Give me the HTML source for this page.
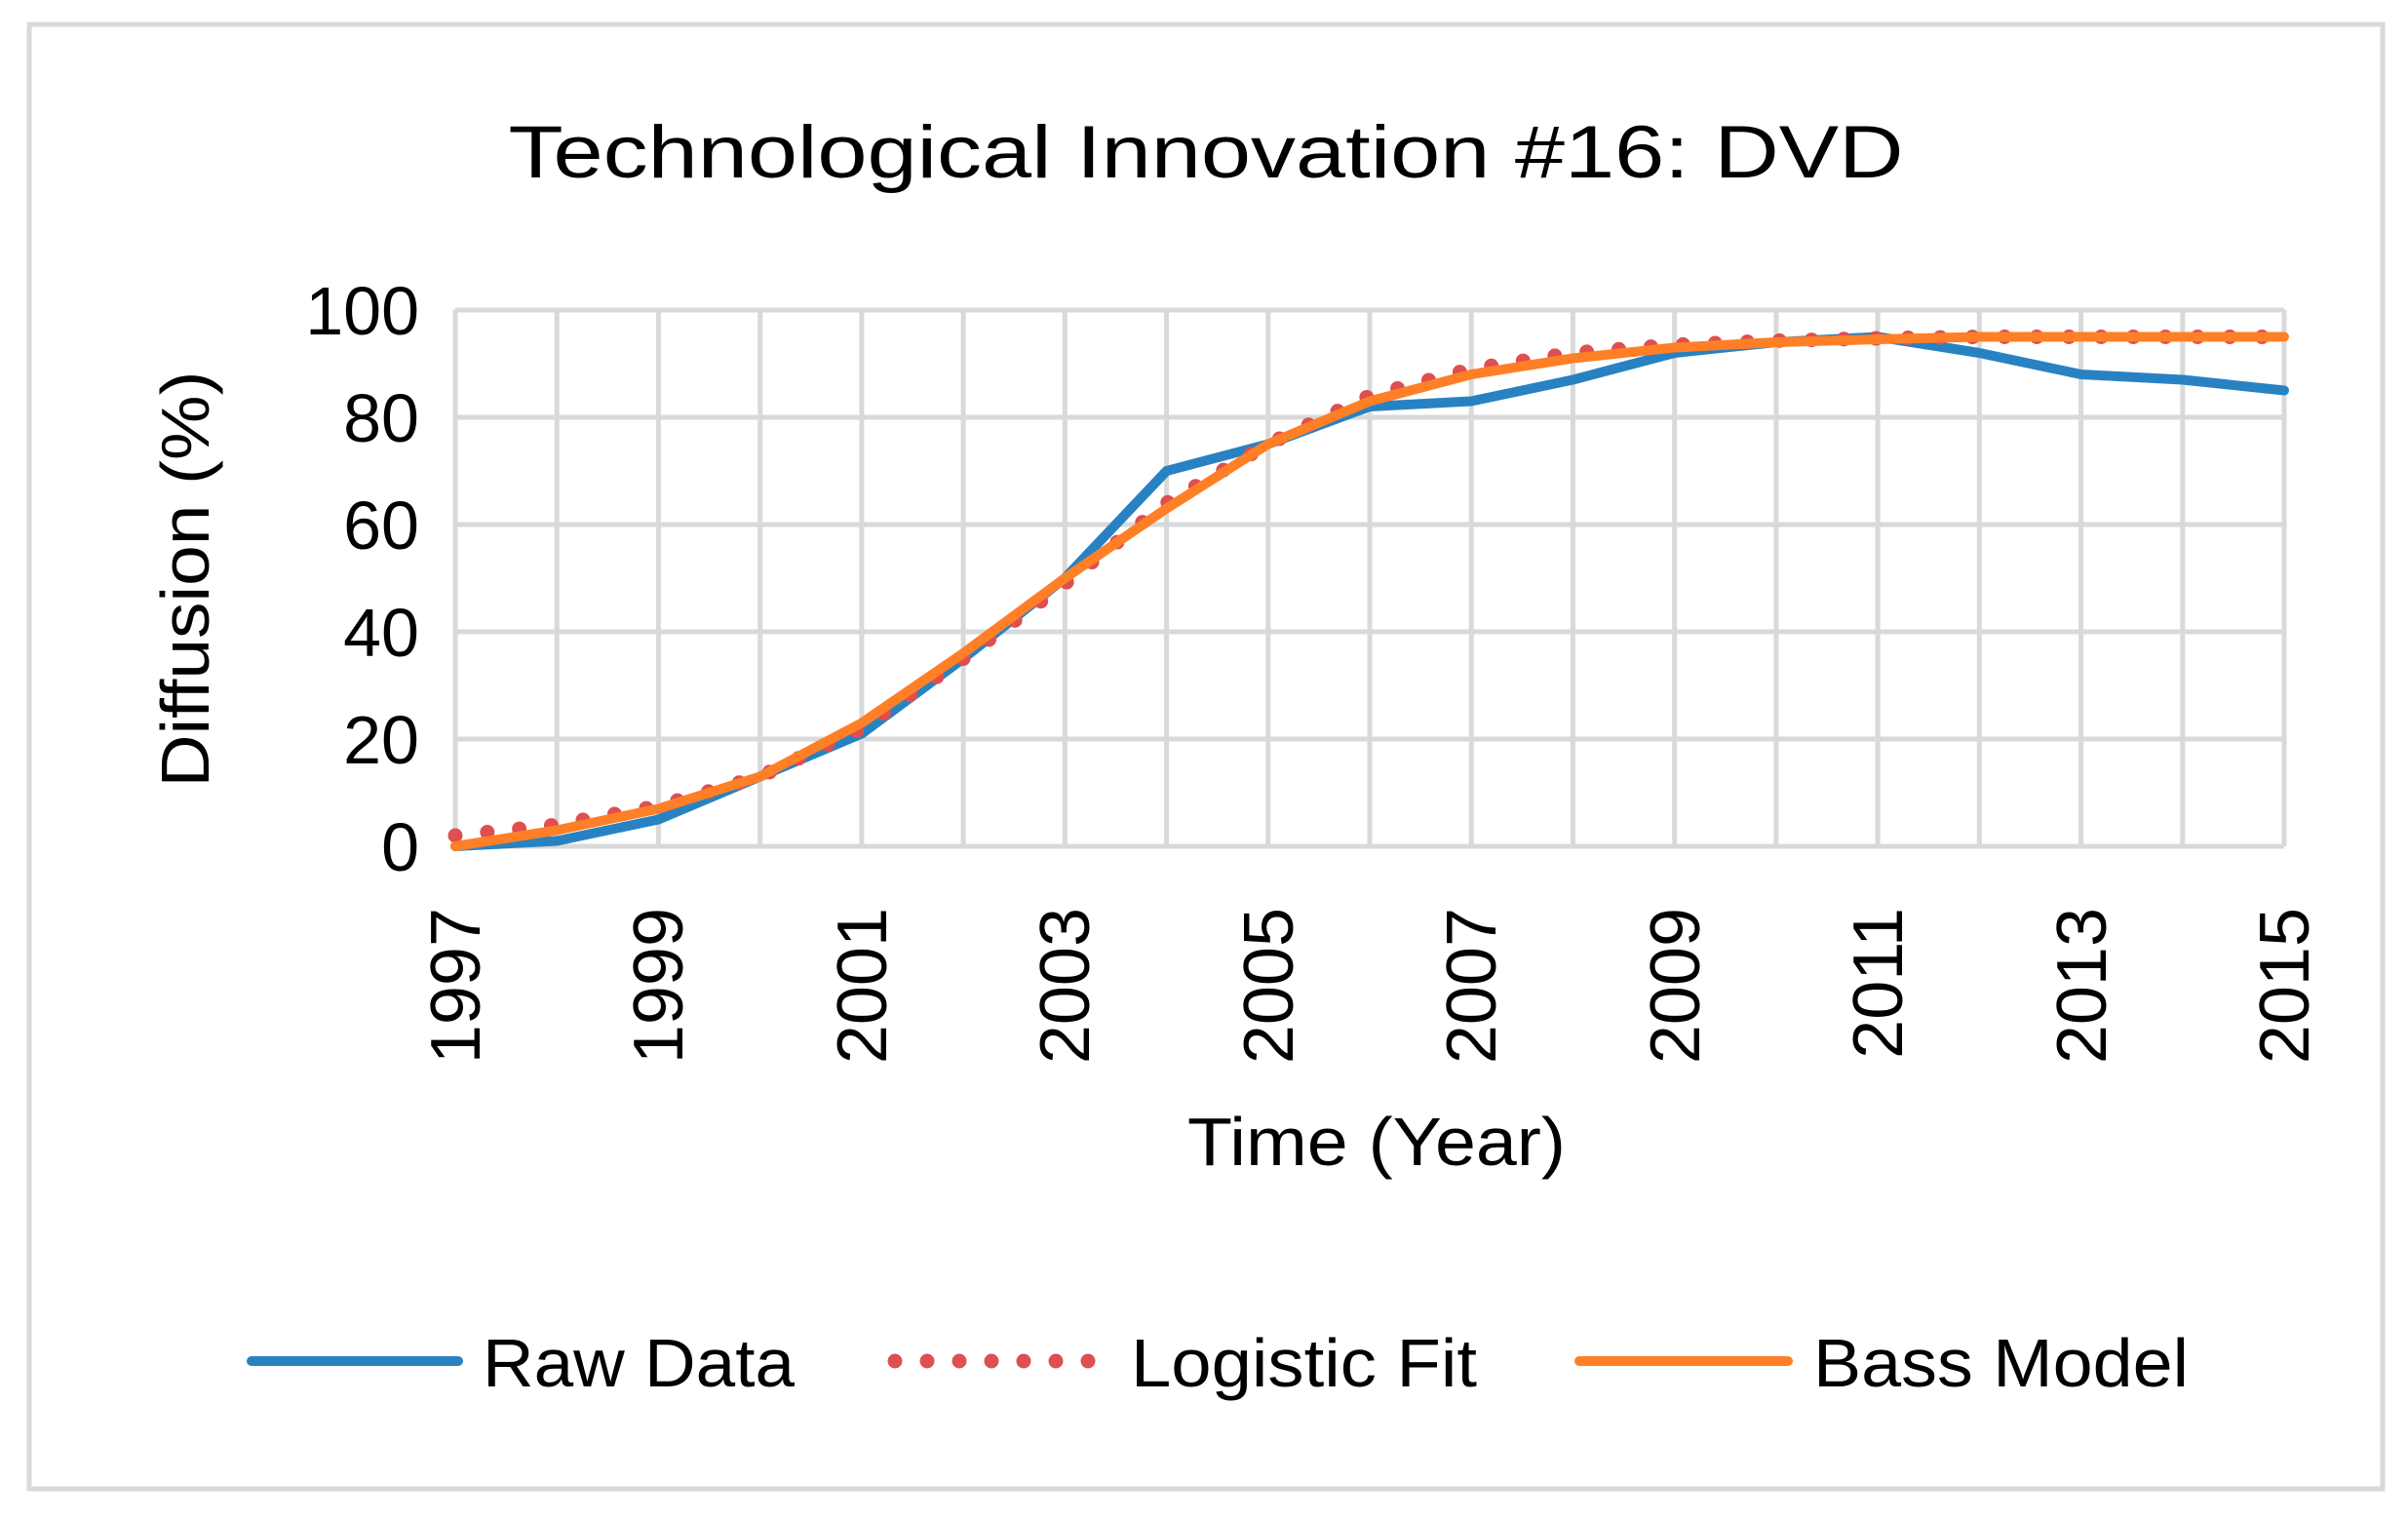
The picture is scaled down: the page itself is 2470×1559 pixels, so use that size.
<!DOCTYPE html>
<html><head><meta charset="utf-8"><style>html,body{margin:0;padding:0;background:#fff}</style></head>
<body>
<svg width="2470" height="1554" xmlns="http://www.w3.org/2000/svg" font-family="Liberation Sans, sans-serif">
<rect x="0" y="0" width="2470" height="1554" fill="#fff"/>
<rect x="30" y="25" width="2414" height="1502" fill="none" stroke="#d9d9d9" stroke-width="5"/>
<text x="1237" y="182" font-size="76" text-anchor="middle" textLength="1431" lengthAdjust="spacingAndGlyphs">Technological Innovation #16:  DVD</text>
<g stroke="#d9d9d9" stroke-width="5">
<line x1="467" y1="868" x2="2343" y2="868"/><line x1="467" y1="758" x2="2343" y2="758"/><line x1="467" y1="648" x2="2343" y2="648"/><line x1="467" y1="538" x2="2343" y2="538"/><line x1="467" y1="428" x2="2343" y2="428"/><line x1="467" y1="318" x2="2343" y2="318"/>
<line x1="467" y1="318" x2="467" y2="868"/><line x1="571.2" y1="318" x2="571.2" y2="868"/><line x1="675.4" y1="318" x2="675.4" y2="868"/><line x1="779.7" y1="318" x2="779.7" y2="868"/><line x1="883.9" y1="318" x2="883.9" y2="868"/><line x1="988.1" y1="318" x2="988.1" y2="868"/><line x1="1092.3" y1="318" x2="1092.3" y2="868"/><line x1="1196.6" y1="318" x2="1196.6" y2="868"/><line x1="1300.8" y1="318" x2="1300.8" y2="868"/><line x1="1405" y1="318" x2="1405" y2="868"/><line x1="1509.2" y1="318" x2="1509.2" y2="868"/><line x1="1613.4" y1="318" x2="1613.4" y2="868"/><line x1="1717.7" y1="318" x2="1717.7" y2="868"/><line x1="1821.9" y1="318" x2="1821.9" y2="868"/><line x1="1926.1" y1="318" x2="1926.1" y2="868"/><line x1="2030.3" y1="318" x2="2030.3" y2="868"/><line x1="2134.6" y1="318" x2="2134.6" y2="868"/><line x1="2238.8" y1="318" x2="2238.8" y2="868"/><line x1="2343" y1="318" x2="2343" y2="868"/>
</g>
<g font-size="70" text-anchor="end">
<text x="430" y="893">0</text><text x="430" y="783">20</text><text x="430" y="673">40</text><text x="430" y="563">60</text><text x="430" y="453">80</text><text x="430" y="343">100</text>
</g>
<text transform="translate(214,594) rotate(-90)" font-size="70" text-anchor="middle" textLength="427" lengthAdjust="spacingAndGlyphs">Diffusion (%)</text>
<g font-size="72" text-anchor="end">
<text transform="translate(492,931) rotate(-90)">1997</text>
<text transform="translate(700,931) rotate(-90)">1999</text>
<text transform="translate(909,931) rotate(-90)">2001</text>
<text transform="translate(1117,931) rotate(-90)">2003</text>
<text transform="translate(1326,931) rotate(-90)">2005</text>
<text transform="translate(1534,931) rotate(-90)">2007</text>
<text transform="translate(1743,931) rotate(-90)">2009</text>
<text transform="translate(1951,931) rotate(-90)">2011</text>
<text transform="translate(2160,931) rotate(-90)">2013</text>
<text transform="translate(2368,931) rotate(-90)">2015</text>
</g>
<text x="1412" y="1195" font-size="70" text-anchor="middle" textLength="388" lengthAdjust="spacingAndGlyphs">Time (Year)</text>
<polyline fill="none" stroke="#2882c2" stroke-width="10" stroke-linejoin="round" stroke-linecap="round" points="467,868 571.2,862.5 675.4,840.5 779.7,796.5 883.9,752.5 988.1,675.5 1092.3,593 1196.6,483 1300.8,455.5 1405,417 1509.2,411.5 1613.4,389.5 1717.7,362 1821.9,351 1926.1,345.5 2030.3,362 2134.6,384 2238.8,389.5 2343,400.5"/>
<polyline fill="none" stroke="#de4f4f" stroke-width="15" stroke-dasharray="0 33" stroke-linecap="round" points="467,857 571.2,846 675.4,826.75 779.7,796.5 883.9,747 988.1,675.5 1092.3,598.5 1196.6,516 1300.8,455.5 1405,406 1509.2,378.5 1613.4,362 1717.7,353.75 1821.9,349.4 1926.1,347 2030.3,345.5 2134.6,345.5 2238.8,345.5 2343,345.5"/>
<polyline fill="none" stroke="#ff7f27" stroke-width="10" stroke-linejoin="round" stroke-linecap="round" points="467,868 571.2,851.5 675.4,829.5 779.7,796.5 883.9,741.5 988.1,670 1092.3,593 1196.6,521.5 1300.8,455.5 1405,411.5 1509.2,384 1613.4,367.5 1717.7,356.5 1821.9,351 1926.1,348 2030.3,345.5 2134.6,345.5 2238.8,345.5 2343,345.5"/>
<line x1="258" y1="1396" x2="470" y2="1396" stroke="#2882c2" stroke-width="10" stroke-linecap="round"/>
<text x="495" y="1422" font-size="70" textLength="320" lengthAdjust="spacingAndGlyphs">Raw Data</text>
<line x1="918" y1="1396" x2="1120" y2="1396" stroke="#de4f4f" stroke-width="15" stroke-dasharray="0 33" stroke-linecap="round"/>
<text x="1160" y="1422" font-size="70" textLength="355" lengthAdjust="spacingAndGlyphs">Logistic Fit</text>
<line x1="1620" y1="1396" x2="1834" y2="1396" stroke="#ff7f27" stroke-width="10" stroke-linecap="round"/>
<text x="1860" y="1422" font-size="70" textLength="385" lengthAdjust="spacingAndGlyphs">Bass Model</text>
</svg>
</body></html>
